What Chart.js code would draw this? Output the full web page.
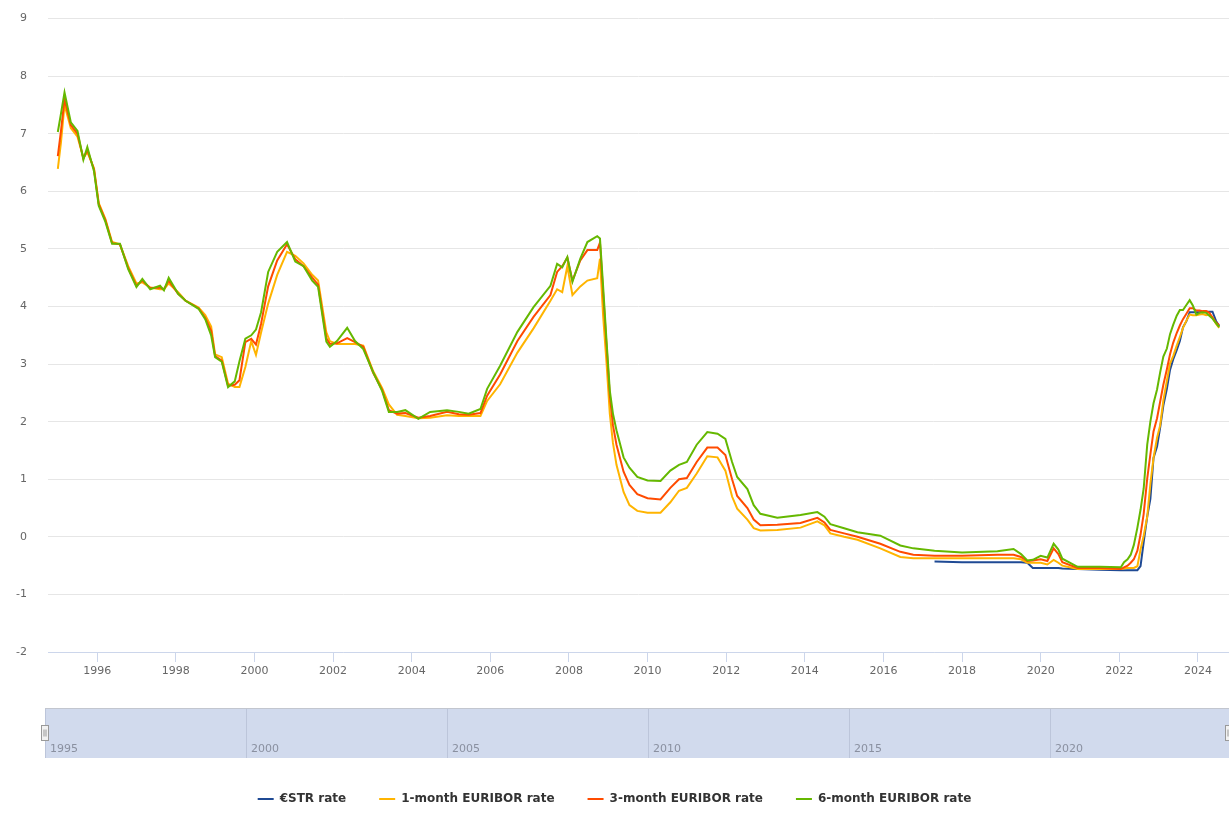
<!DOCTYPE html>
<html lang="en">
<head>
<meta charset="UTF-8">
<title>€STR and EURIBOR rates</title>
<script src="https://cdn.jsdelivr.net/npm/chart.js"></script>
<style>
    body { margin: 0; background: #fff; overflow: hidden; }
    #main { position: absolute; left: 0; top: -9px; }
    #nav { position: absolute; left: 0; top: 700px; }
    #key { position: absolute; left: 0; top: 760px; }
</style>
</head>
<body>
<canvas id="main" width="1229" height="709"></canvas>
<canvas id="nav" width="1229" height="60"></canvas>
<canvas id="key" width="1229" height="180"></canvas>
<script>
// observation dates (decimal years)
const dates = [
    1995.00, 1995.08, 1995.17, 1995.33, 1995.50, 1995.65, 1995.75, 1995.92,
    1996.04, 1996.21, 1996.38, 1996.58, 1996.79, 1997.00, 1997.15, 1997.35,
    1997.60, 1997.70, 1997.82, 1998.06, 1998.25, 1998.58, 1998.75, 1998.90,
    1999.00, 1999.17, 1999.33, 1999.50, 1999.62, 1999.77, 1999.92, 2000.04,
    2000.17, 2000.35, 2000.58, 2000.83, 2001.04, 2001.25, 2001.47, 2001.62,
    2001.83, 2001.92, 2002.10, 2002.36, 2002.56, 2002.77, 2003.02, 2003.25,
    2003.42, 2003.63, 2003.84, 2004.17, 2004.47, 2004.90, 2005.20, 2005.45,
    2005.75, 2005.92, 2006.25, 2006.69, 2007.10, 2007.53, 2007.70, 2007.83,
    2007.96, 2008.09, 2008.29, 2008.47, 2008.72, 2008.79, 2008.87, 2008.96,
    2009.04, 2009.12, 2009.21, 2009.39, 2009.54, 2009.74, 2010.00, 2010.33,
    2010.58, 2010.80, 2011.00, 2011.25, 2011.52, 2011.78, 2011.98, 2012.15,
    2012.28, 2012.54, 2012.70, 2012.87, 2013.30, 2013.89, 2014.32, 2014.50,
    2014.65, 2015.00, 2015.34, 2015.92, 2016.43, 2016.76, 2017.30, 2018.00,
    2018.90, 2019.31, 2019.50, 2019.66, 2019.80, 2020.00, 2020.17, 2020.33,
    2020.45, 2020.55, 2020.94, 2021.50,
    2022.04, 2022.12, 2022.21, 2022.29, 2022.37, 2022.46, 2022.54, 2022.62,
    2022.71, 2022.79, 2022.87, 2022.96, 2023.04, 2023.12, 2023.21, 2023.29,
    2023.37, 2023.46, 2023.54, 2023.62, 2023.71, 2023.79, 2023.87, 2023.96,
    2024.04, 2024.12, 2024.21, 2024.29, 2024.37, 2024.46, 2024.54
];

const estr = [
    null, null, null, null, null, null, null, null,
    null, null, null, null, null, null, null, null,
    null, null, null, null, null, null, null, null,
    null, null, null, null, null, null, null, null,
    null, null, null, null, null, null, null, null,
    null, null, null, null, null, null, null, null,
    null, null, null, null, null, null, null, null,
    null, null, null, null, null, null, null, null,
    null, null, null, null, null, null, null, null,
    null, null, null, null, null, null, null, null,
    null, null, null, null, null, null, null, null,
    null, null, null, null, null, null, null, null,
    null, null, null, null, null, null, -0.43, -0.44,
    -0.44, -0.44, -0.44, -0.45, -0.54, -0.54, -0.54, -0.54,
    -0.54, -0.55, -0.56, -0.57,
    -0.58, -0.58, -0.58, -0.58, -0.58, -0.58, -0.51, -0.09,
    0.35, 0.66, 1.37, 1.57, 1.90, 2.28, 2.57, 2.90,
    3.08, 3.24, 3.40, 3.64, 3.75, 3.90, 3.90, 3.90,
    3.90, 3.91, 3.91, 3.91, 3.91, 3.75, 3.66
];

const euribor1m = [
    6.39, 6.85, 7.50, 7.10, 6.95, 6.58, 6.68, 6.40,
    5.80, 5.52, 5.12, 5.08, 4.70, 4.40, 4.42, 4.33,
    4.30, 4.30, 4.40, 4.25, 4.10, 3.98, 3.85, 3.65,
    3.17, 3.12, 2.66, 2.60, 2.60, 2.95, 3.40, 3.16,
    3.55, 4.05, 4.55, 4.95, 4.88, 4.75, 4.55, 4.45,
    3.55, 3.40, 3.35, 3.35, 3.35, 3.32, 2.88, 2.58,
    2.30, 2.12, 2.10, 2.06, 2.07, 2.11, 2.10, 2.10,
    2.10, 2.36, 2.65, 3.20, 3.62, 4.10, 4.30, 4.25,
    4.70, 4.20, 4.35, 4.45, 4.49, 4.83, 3.84, 2.99,
    2.14, 1.63, 1.25, 0.78, 0.55, 0.45, 0.42, 0.42,
    0.60, 0.80, 0.85, 1.10, 1.40, 1.38, 1.15, 0.70,
    0.49, 0.30, 0.15, 0.11, 0.12, 0.16, 0.27, 0.20,
    0.06, 0.00, -0.05, -0.20, -0.35, -0.37, -0.37, -0.37,
    -0.37, -0.37, -0.39, -0.45, -0.45, -0.45, -0.48, -0.40,
    -0.45, -0.50, -0.56, -0.56,
    -0.56, -0.55, -0.54, -0.54, -0.54, -0.51, -0.22, 0.02,
    0.35, 0.92, 1.37, 1.72, 1.94, 2.37, 2.71, 3.01,
    3.14, 3.32, 3.47, 3.63, 3.76, 3.86, 3.85, 3.85,
    3.86, 3.87, 3.85, 3.86, 3.81, 3.70, 3.63
];

const euribor3m = [
    6.61, 7.05, 7.60, 7.15, 7.00, 6.57, 6.72, 6.38,
    5.78, 5.50, 5.10, 5.08, 4.67, 4.36, 4.45, 4.32,
    4.33, 4.30, 4.45, 4.22, 4.10, 3.97, 3.80, 3.58,
    3.14, 3.06, 2.62, 2.64, 2.72, 3.38, 3.44, 3.34,
    3.70, 4.35, 4.80, 5.08, 4.82, 4.70, 4.50, 4.38,
    3.45, 3.35, 3.36, 3.45, 3.38, 3.30, 2.85, 2.55,
    2.20, 2.14, 2.15, 2.07, 2.10, 2.17, 2.13, 2.12,
    2.15, 2.45, 2.82, 3.40, 3.82, 4.20, 4.60, 4.70,
    4.85, 4.45, 4.80, 4.98, 4.98, 5.11, 4.24, 3.29,
    2.46, 1.94, 1.60, 1.13, 0.90, 0.74, 0.67, 0.65,
    0.85, 1.00, 1.02, 1.30, 1.55, 1.55, 1.42, 1.00,
    0.71, 0.50, 0.30, 0.20, 0.21, 0.24, 0.33, 0.25,
    0.12, 0.06, 0.00, -0.12, -0.26, -0.31, -0.33, -0.33,
    -0.31, -0.31, -0.35, -0.42, -0.41, -0.39, -0.42, -0.20,
    -0.30, -0.44, -0.54, -0.54,
    -0.56, -0.53, -0.50, -0.45, -0.39, -0.24, 0.04, 0.40,
    1.01, 1.43, 1.83, 2.06, 2.35, 2.64, 2.91, 3.17,
    3.37, 3.54, 3.67, 3.78, 3.88, 3.97, 3.97, 3.93,
    3.93, 3.92, 3.92, 3.89, 3.81, 3.72, 3.68
];

const euribor6m = [
    7.03, 7.35, 7.72, 7.20, 7.05, 6.55, 6.77, 6.35,
    5.75, 5.47, 5.09, 5.09, 4.65, 4.34, 4.48, 4.30,
    4.36, 4.28, 4.50, 4.22, 4.10, 3.96, 3.78, 3.50,
    3.12, 3.04, 2.60, 2.70, 3.05, 3.44, 3.50, 3.60,
    3.90, 4.60, 4.95, 5.12, 4.78, 4.70, 4.45, 4.34,
    3.39, 3.30, 3.40, 3.63, 3.40, 3.26, 2.86, 2.53,
    2.17, 2.17, 2.20, 2.05, 2.17, 2.20, 2.17, 2.14,
    2.22, 2.57, 2.97, 3.56, 3.99, 4.36, 4.74, 4.68,
    4.86, 4.43, 4.83, 5.12, 5.22, 5.18, 4.35, 3.37,
    2.54, 2.14, 1.85, 1.38, 1.20, 1.04, 0.98, 0.97,
    1.15, 1.25, 1.30, 1.60, 1.82, 1.79, 1.70, 1.30,
    1.04, 0.83, 0.55, 0.40, 0.33, 0.38, 0.43, 0.35,
    0.22, 0.15, 0.08, 0.02, -0.15, -0.20, -0.24, -0.27,
    -0.25, -0.21, -0.30, -0.41, -0.40, -0.33, -0.36, -0.12,
    -0.22, -0.38, -0.52, -0.52,
    -0.53, -0.44, -0.39, -0.31, -0.14, 0.16, 0.47, 0.84,
    1.60, 2.00, 2.32, 2.56, 2.86, 3.13, 3.27, 3.52,
    3.68, 3.84, 3.94, 3.94, 4.03, 4.11, 4.02, 3.86,
    3.89, 3.90, 3.89, 3.84, 3.79, 3.71, 3.64
];

const seriesNames = ['€STR rate', '1-month EURIBOR rate', '3-month EURIBOR rate', '6-month EURIBOR rate'];
const seriesColors = ['#1f4a94', '#FFB400', '#FF4B00', '#65B800'];

const xTicks = [1996, 1998, 2000, 2002, 2004, 2006, 2008, 2010, 2012, 2014, 2016, 2018, 2020, 2022, 2024];
const yTicks = [-2, -1, 0, 1, 2, 3, 4, 5, 6, 7, 8, 9];
const navTicks = [1995, 2000, 2005, 2010, 2015, 2020];

const font = 'DejaVu Sans';

function points(values) {
    return dates.map((d, i) => ({ x: d, y: values[i] }));
}

// green drawn on top, blue underneath (dataset 0 is painted last)
const seriesValues = [estr, euribor1m, euribor3m, euribor6m];
const mainSets = [3, 2, 1, 0].map(i => ({
    label: seriesNames[i],
    data: points(seriesValues[i]),
    borderColor: seriesColors[i],
    backgroundColor: seriesColors[i],
    borderWidth: 2,
    pointRadius: 0,
    tension: 0,
    spanGaps: false
}));

new Chart(document.getElementById('main'), {
    type: 'line',
    data: { datasets: mainSets },
    options: {
        responsive: false,
        animation: false,
        events: [],
        layout: { padding: { top: 9, left: 0, right: 0, bottom: 0 } },
        plugins: { legend: { display: false }, tooltip: { enabled: false } },
        scales: {
            x: {
                type: 'linear',
                min: 1994.75,
                max: 2024.79,
                afterBuildTicks: s => { s.ticks = xTicks.map(v => ({ value: v })); },
                afterFit: s => { s.height = 48; },
                ticks: {
                    callback: v => String(v),
                    color: '#666',
                    font: { family: font, size: 11 },
                    padding: 3,
                    maxRotation: 0,
                    autoSkip: false
                },
                grid: { drawOnChartArea: false, drawTicks: true, tickLength: 10, color: '#ccd6eb' },
                border: { display: true, color: '#ccd6eb' }
            },
            y: {
                min: -2,
                max: 9,
                afterBuildTicks: s => { s.ticks = yTicks.map(v => ({ value: v })); },
                afterFit: s => { s.width = 48; },
                ticks: {
                    color: '#666',
                    font: { family: font, size: 11 },
                    padding: 21
                },
                grid: { color: '#e6e6e6', drawTicks: false },
                border: { display: false }
            }
        }
    }
});

// navigator band: fill, outline, year labels inside the band and handles
const navigatorPlugin = {
    id: 'navigatorBand',
    beforeDraw(chart) {
        const { ctx, chartArea: a } = chart;
        ctx.save();
        ctx.fillStyle = '#d1daed';
        ctx.fillRect(a.left, a.top, a.right - a.left, a.bottom - a.top);
        ctx.restore();
    },
    afterDraw(chart) {
        const { ctx, chartArea: a } = chart;
        const xs = chart.scales.x;
        ctx.save();
        ctx.strokeStyle = '#c2c6cf';
        ctx.lineWidth = 1;
        ctx.beginPath();
        ctx.moveTo(a.left, a.top + 0.5);
        ctx.lineTo(a.right, a.top + 0.5);
        ctx.stroke();

        ctx.fillStyle = '#8a90a0';
        ctx.font = '11px "' + font + '"';
        ctx.textAlign = 'left';
        ctx.textBaseline = 'alphabetic';
        navTicks.forEach(v => {
            ctx.fillText(String(v), xs.getPixelForValue(v) + 5, a.bottom - 6);
        });

        const mid = (a.top + a.bottom) / 2;
        [a.left - 4, a.right - 4].forEach(hx => {
            ctx.fillStyle = '#f2f2f2';
            ctx.strokeStyle = '#999';
            ctx.fillRect(hx + 0.5, mid - 7.5, 7, 15);
            ctx.strokeRect(hx + 0.5, mid - 7.5, 7, 15);
            ctx.beginPath();
            ctx.moveTo(hx + 3, mid - 3.5);
            ctx.lineTo(hx + 3, mid + 3.5);
            ctx.moveTo(hx + 5, mid - 3.5);
            ctx.lineTo(hx + 5, mid + 3.5);
            ctx.stroke();
        });
        ctx.restore();
    }
};

new Chart(document.getElementById('nav'), {
    type: 'line',
    data: { datasets: [] },
    options: {
        responsive: false,
        animation: false,
        events: [],
        layout: { padding: { top: 8, left: 45, right: 0, bottom: 2 } },
        plugins: { legend: { display: false }, tooltip: { enabled: false } },
        scales: {
            x: {
                type: 'linear',
                min: 1995,
                max: 2024.45,
                afterBuildTicks: s => { s.ticks = navTicks.map(v => ({ value: v })); },
                afterFit: s => { s.height = 0; },
                ticks: { display: false },
                grid: { drawOnChartArea: true, drawTicks: false, color: '#bcc5da' },
                border: { display: false }
            },
            y: { display: false, min: 0, max: 1 }
        }
    },
    plugins: [navigatorPlugin]
});

// legend row under the navigator
new Chart(document.getElementById('key'), {
    type: 'line',
    data: {
        datasets: seriesNames.map((name, i) => ({
            label: name,
            data: [],
            borderColor: seriesColors[i],
            backgroundColor: seriesColors[i],
            borderWidth: 2,
            pointRadius: 0
        }))
    },
    options: {
        responsive: false,
        animation: false,
        events: [],
        layout: { padding: 0 },
        plugins: {
            tooltip: { enabled: false },
            legend: {
                position: 'top',
                labels: {
                    usePointStyle: true,
                    pointStyle: 'line',
                    pointStyleWidth: 16,
                    padding: 33,
                    color: '#333',
                    font: { family: font, size: 12, weight: 'bold' }
                }
            }
        },
        scales: {
            x: { display: false },
            y: { display: false }
        }
    }
});
</script>
</body>
</html>
